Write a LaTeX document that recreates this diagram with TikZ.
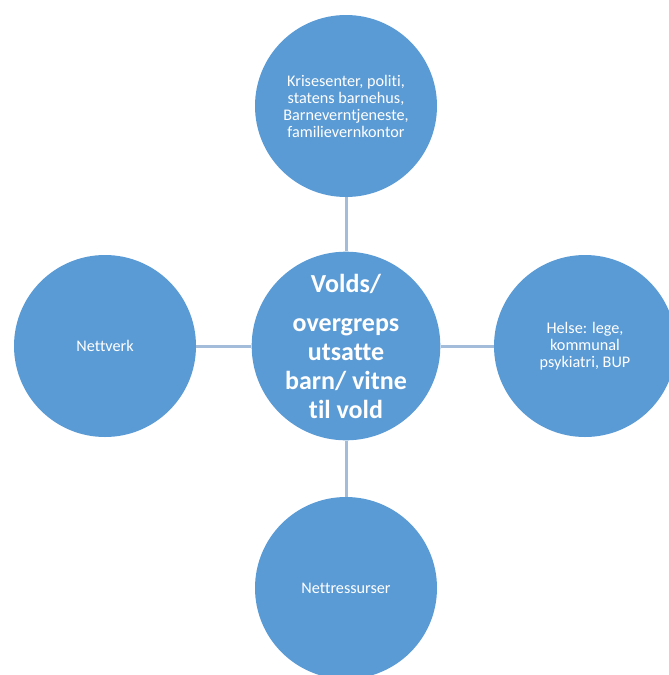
\documentclass[tikz,border=0pt]{standalone}
\usepackage{fontspec}
\newfontfamily\calib[Ligatures={NoCommon}]{Carlito}
\definecolor{circfill}{HTML}{5B9BD5}
\definecolor{connline}{HTML}{A3BCD9}
\begin{document}
\begin{tikzpicture}[x=1pt,y=-1pt,
  bubble/.style={circle, fill=circfill, draw=none, minimum size=182pt, inner sep=0pt,
    text=white, align=center, font=\calib\fontsize{16.2}{17}\selectfont},
  hub/.style={bubble, font=\calib\bfseries\fontsize{26}{29}\selectfont},
  conn/.style={draw=connline, line width=3pt}]
\useasboundingbox (0,0) rectangle (669,675);
\clip (0,0) rectangle (669,675);
\node[hub] (c) at (346,346) {Volds/\\[10pt]overgreps\\utsatte\\barn/ vitne\\til vold};
\node[bubble] (t) at (346,106) {Krisesenter, politi,\\statens barnehus,\\Barneverntjeneste,\\familievernkontor};
\node[bubble] (l) at (105,346) {Nettverk};
\node[bubble] (r) at (585,346) {Helse: lege,\\kommunal\\psykiatri, BUP};
\node[bubble] (b) at (346,588) {Nettressurser};
\draw[conn] (c) -- (t);
\draw[conn] (c) -- (l);
\draw[conn] (c) -- (r);
\draw[conn] (c) -- (b);
\end{tikzpicture}
\end{document}
